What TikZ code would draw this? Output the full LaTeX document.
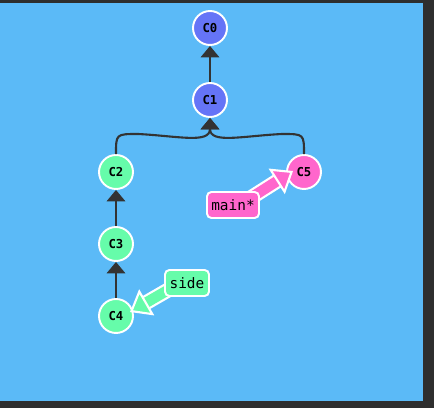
\documentclass[tikz,border=0pt]{standalone}
\usepackage{fontspec}
\setmonofont{DejaVu Sans Mono}
\usetikzlibrary{arrows.meta,calc,backgrounds}
\pgfdeclarelayer{labels}
\pgfsetlayers{background,main,labels}
\definecolor{frame}{RGB}{46,46,46}
\definecolor{bgblue}{RGB}{91,186,247}
\definecolor{cpurple}{RGB}{101,116,247}
\definecolor{cgreen}{RGB}{102,252,170}
\definecolor{cpink}{RGB}{255,102,204}
\definecolor{edgegray}{RGB}{51,51,51}
\begin{document}
\begin{tikzpicture}[x=0.02cm,y=-0.02cm,
  commit/.style={circle,draw=white,line width=1.1pt,minimum size=0.68cm,inner sep=0pt,
    font=\ttfamily\bfseries\fontsize{7}{8}\selectfont},
  branch/.style={draw=white,line width=1.1pt,rounded corners=2.5pt,inner sep=0pt,
    minimum height=0.52cm,font=\ttfamily\fontsize{8.2}{9}\selectfont},
  parent/.style={draw=edgegray,line width=1.2pt,-{Triangle[length=6.5pt,width=10.5pt]}},
  pointer/.style={line width=6pt,draw=#1,
    -{Triangle[length=11pt 0 0,width=17pt 0 0,color=white,fill=#1,line width=1.2pt 0]}},
  pointer back/.style={draw=white,line width=8.5pt,shorten >=9pt}]
% frame and canvas
\begin{scope}[on background layer]
\fill[frame] (0,0) rectangle (434,408);
\fill[bgblue] (0,3) rectangle (423,401);
\end{scope}
% commits
\node[commit,fill=cpurple] (c0) at (210,28) {C0};
\node[commit,fill=cpurple] (c1) at (210,100) {C1};
\node[commit,fill=cgreen] (c2) at (116,172) {C2};
\node[commit,fill=cgreen] (c3) at (116,244) {C3};
\node[commit,fill=cgreen] (c4) at (116,316) {C4};
\node[commit,fill=cpink] (c5) at (304,172) {C5};
% branch labels, above the pointers
\begin{pgfonlayer}{labels}
\node[branch,fill=cpink,minimum width=1.04cm] (main) at (233,205) {main*};
\node[branch,fill=cgreen,minimum width=0.88cm] (side) at (187,283) {side};
\end{pgfonlayer}
% parents
\draw[parent] (c1) -- (c0);
\draw[parent] (c2.north) .. controls (116,134) .. (138,134)
  .. controls (178,136) and (210,144) .. (c1.south);
\draw[parent] (c5.north) .. controls (304,134) .. (282,134)
  .. controls (242,136) and (210,144) .. (c1.south);
\draw[parent] (c3) -- (c2);
\draw[parent] (c4) -- (c3);
% branch pointers
\draw[pointer back] ($(main)+(12,-3.5)$) -- ($(c5)+(-11,-1)$);
\draw[pointer=cpink] ($(main)+(12,-3.5)$) -- ($(c5)+(-11,-1)$);
\draw[pointer back] ($(side)+(-12,3)$) -- ($(c4)+(14,-4)$);
\draw[pointer=cgreen] ($(side)+(-12,3)$) -- ($(c4)+(14,-4)$);
\end{tikzpicture}
\end{document}
